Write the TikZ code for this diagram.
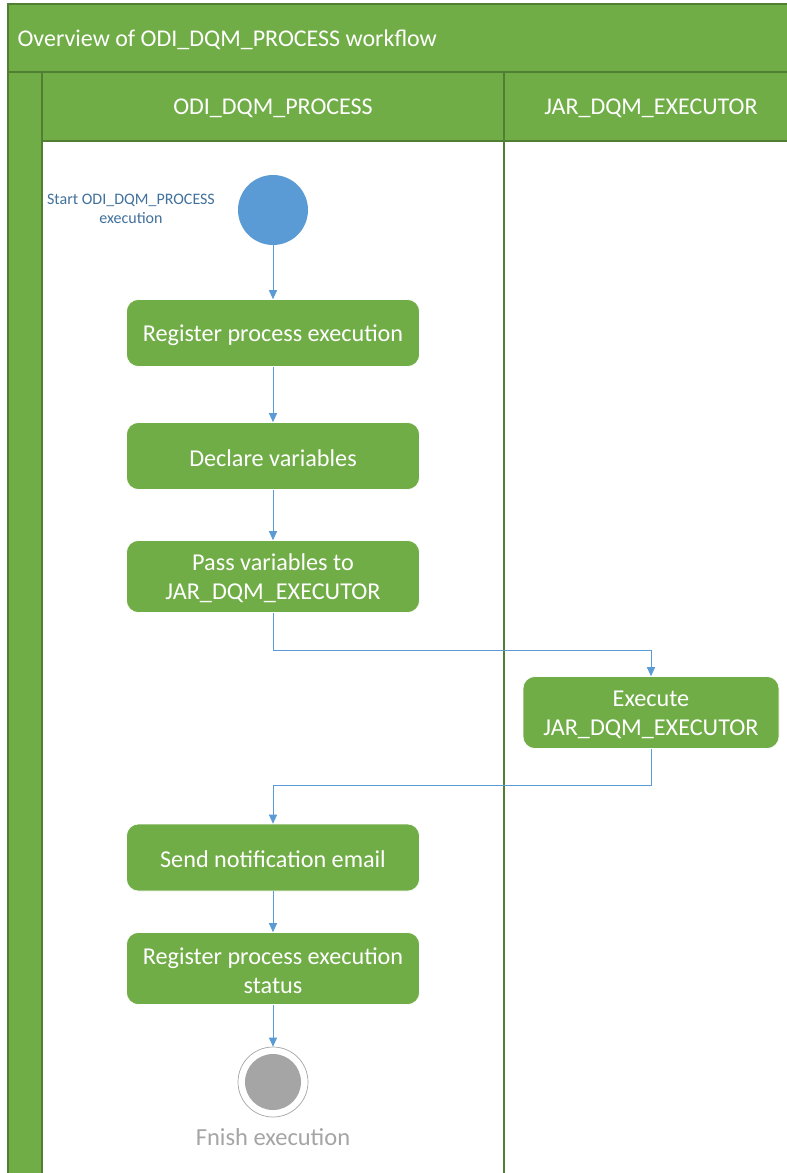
\documentclass[tikz,border=0pt]{standalone}
\usepackage{fontspec}
\setmainfont{Carlito}
\usetikzlibrary{arrows.meta}
\definecolor{gfill}{HTML}{70AD47}
\definecolor{gline}{HTML}{507E32}
\definecolor{bfill}{HTML}{5B9BD5}
\definecolor{btext}{HTML}{41719C}
\definecolor{gray1}{HTML}{A5A5A5}
\begin{document}
\begin{tikzpicture}[x=1pt,y=-1pt,
  lanebox/.style={draw=gline,fill=gfill,line width=1.2pt},
  act/.style={rounded corners=12pt,fill=gfill,draw=white,line width=0.6pt},
  acttext/.style={text=white,align=center,yshift=-2pt,font=\fontsize{24.2}{29}\selectfont},
  flow/.style={draw=bfill,line width=0.9pt,-{Triangle[length=9pt,width=8pt]}},
  htext/.style={text=white,yshift=-2pt,font=\fontsize{24}{28}\selectfont}]
\useasboundingbox (0,0) rectangle (787,1173);
% pool
\fill[white] (8,4) rectangle (800,1180);
\path[lanebox] (8,4) rectangle (800,72);
\path[lanebox] (8,72) rectangle (42,1180);
\path[lanebox] (42,72) rectangle (504,141);
\path[lanebox] (504,72) rectangle (800,141);
\draw[gline,line width=1.2pt] (504,141) -- (504,1180);
\node[htext,anchor=west] (title) at (14,38) {Overview of ODI\_DQM\_PROCESS workflow};
\node[htext] (lane1) at (273,106) {ODI\_DQM\_PROCESS};
\node[htext] (lane2) at (651,106) {JAR\_DQM\_EXECUTOR};
% start
\node[circle,fill=bfill,minimum size=70pt,inner sep=0pt] (start) at (273,210) {};
\node[text=btext,align=center,font=\fontsize{16}{19}\selectfont] (startlbl) at (131,209) {Start ODI\_DQM\_PROCESS\\execution};
% activities
\node[act,minimum width=293pt,minimum height=67pt,label={[acttext]center:{Register process execution}}] (a1) at (273,333) {};
\node[act,minimum width=293pt,minimum height=67pt,label={[acttext]center:{Declare variables}}] (a2) at (273,456) {};
\node[act,minimum width=293pt,minimum height=72pt,label={[acttext]center:{Pass variables to\\JAR\_DQM\_EXECUTOR}}] (a3) at (273,576.5) {};
\node[act,minimum width=256pt,minimum height=72pt,label={[acttext]center:{Execute\\JAR\_DQM\_EXECUTOR}}] (a4) at (651,712.5) {};
\node[act,minimum width=293pt,minimum height=67pt,label={[acttext]center:{Send notification email}}] (a5) at (273,857.5) {};
\node[act,minimum width=293pt,minimum height=72pt,label={[acttext]center:{Register process execution\\status}}] (a6) at (273,968.5) {};
% end
\node[circle,draw=gray1,line width=0.7pt,fill=white,minimum size=70pt,inner sep=0pt] (end) at (273,1082) {};
\node[circle,fill=gray1,minimum size=56pt,inner sep=0pt] (endin) at (end.center) {};
\node[text=gray1,font=\fontsize{24.5}{28}\selectfont] (endlbl) at (273,1137) {Fnish execution};
% flows
\draw[flow] (start) -- (a1);
\draw[flow] (a1) -- (a2);
\draw[flow] (a2) -- (a3);
\draw[flow] (a3.south) -- ++(0,38) -| (a4.north);
\draw[flow] (a4.south) -- ++(0,37) -| (a5.north);
\draw[flow] (a5) -- (a6);
\draw[flow] (a6) -- (end);
\end{tikzpicture}
\end{document}
